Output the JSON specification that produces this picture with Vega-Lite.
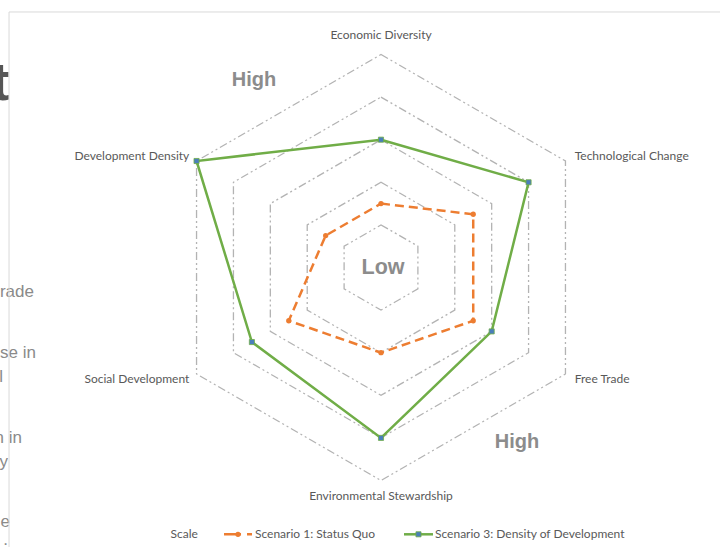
{
  "$schema": "https://vega.github.io/schema/vega-lite/v6.json",
  "autosize": {"type": "none"},
  "width": 720,
  "height": 547,
  "padding": 0,
  "background": "white",
  "config": {"view": {"stroke": null}, "axis": {"disable": true}},
  "datasets": {
    "axes": [
      {"axis": "Economic Diversity", "idx": 0},
      {"axis": "Technological Change", "idx": 1},
      {"axis": "Free Trade", "idx": 2},
      {"axis": "Environmental Stewardship", "idx": 3},
      {"axis": "Social Development", "idx": 4},
      {"axis": "Development Density", "idx": 5}
    ],
    "rings": [
      {"ring": 1, "k": [0, 1, 2, 3, 4, 5]},
      {"ring": 2, "k": [0, 1, 2, 3, 4, 5]},
      {"ring": 3, "k": [0, 1, 2, 3, 4, 5]},
      {"ring": 4, "k": [0, 1, 2, 3, 4, 5]},
      {"ring": 5, "k": [0, 1, 2, 3, 4, 5]}
    ],
    "scores": [
      {"series": "Scenario 1:  Status Quo", "axis": "Economic Diversity", "idx": 0, "value": 1.5},
      {"series": "Scenario 1:  Status Quo", "axis": "Technological Change", "idx": 1, "value": 2.5},
      {"series": "Scenario 1:  Status Quo", "axis": "Free Trade", "idx": 2, "value": 2.5},
      {"series": "Scenario 1:  Status Quo", "axis": "Environmental Stewardship", "idx": 3, "value": 2},
      {"series": "Scenario 1:  Status Quo", "axis": "Social Development", "idx": 4, "value": 2.5},
      {"series": "Scenario 1:  Status Quo", "axis": "Development Density", "idx": 5, "value": 1.5},
      {"series": "Scenario 3:  Density of Development", "axis": "Economic Diversity", "idx": 0, "value": 3},
      {"series": "Scenario 3:  Density of Development", "axis": "Technological Change", "idx": 1, "value": 4},
      {"series": "Scenario 3:  Density of Development", "axis": "Free Trade", "idx": 2, "value": 3},
      {"series": "Scenario 3:  Density of Development", "axis": "Environmental Stewardship", "idx": 3, "value": 4},
      {"series": "Scenario 3:  Density of Development", "axis": "Social Development", "idx": 4, "value": 3.5},
      {"series": "Scenario 3:  Density of Development", "axis": "Development Density", "idx": 5, "value": 5}
    ],
    "one": [{}]
  },
  "layer": [
    {
      "data": {"name": "one"},
      "mark": {"type": "text", "align": "right", "baseline": "alphabetic", "font": "Liberation Sans", "fontSize": 54, "fontWeight": "bold", "color": "#555555"},
      "encoding": {
        "x": {"datum": -8.72, "type": "quantitative", "scale": {"domain": [-8.944, 7.958], "nice": false, "zero": false}},
        "y": {"datum": 3.932, "type": "quantitative", "scale": {"domain": [-6.561, 6.279], "nice": false, "zero": false}},
        "text": {"value": "t"}
      }
    },
    {
      "data": {"values": [
        {"t": "rade", "px": -8.146, "py": -0.692},
        {"t": "se in", "px": -8.099, "py": -2.124},
        {"t": "l", "px": -8.873, "py": -2.688},
        {"t": "n in", "px": -8.427, "py": -4.12},
        {"t": "y", "px": -8.756, "py": -4.683},
        {"t": "e", "px": -8.709, "py": -6.092},
        {"t": ".", "px": -8.756, "py": -6.514}
      ]},
      "mark": {"type": "text", "align": "right", "baseline": "alphabetic", "font": "Liberation Sans", "fontSize": 17, "color": "#8a8a8a"},
      "encoding": {
        "x": {"field": "px", "type": "quantitative", "scale": {"domain": [-8.944, 7.958], "nice": false, "zero": false}},
        "y": {"field": "py", "type": "quantitative", "scale": {"domain": [-6.561, 6.279], "nice": false, "zero": false}},
        "text": {"field": "t"}
      }
    },
    {
      "data": {"name": "one"},
      "mark": {"type": "rule", "color": "#d9d9d9", "strokeWidth": 1},
      "encoding": {
        "x": {"datum": -8.732, "type": "quantitative", "scale": {"domain": [-8.944, 7.958], "nice": false, "zero": false}},
        "x2": {"datum": 7.958},
        "y": {"datum": 5.998, "type": "quantitative", "scale": {"domain": [-6.561, 6.279], "nice": false, "zero": false}}
      }
    },
    {
      "data": {"name": "one"},
      "mark": {"type": "rule", "color": "#d9d9d9", "strokeWidth": 1},
      "encoding": {
        "x": {"datum": -8.732, "type": "quantitative", "scale": {"domain": [-8.944, 7.958], "nice": false, "zero": false}},
        "y": {"datum": 5.998, "type": "quantitative", "scale": {"domain": [-6.561, 6.279], "nice": false, "zero": false}},
        "y2": {"datum": -6.561}
      }
    },
    {
      "data": {"name": "rings"},
      "transform": [
        {"flatten": ["k"]},
        {"calculate": "datum.ring * sin(datum.k * PI / 3)", "as": "x"},
        {"calculate": "datum.ring * cos(datum.k * PI / 3)", "as": "y"}
      ],
      "mark": {"type": "line", "interpolate": "linear-closed", "color": "#b3b3b3", "strokeWidth": 1.3, "strokeDash": [8, 3, 2, 3, 2, 3]},
      "encoding": {
        "x": {"field": "x", "type": "quantitative", "scale": {"domain": [-8.944, 7.958], "nice": false, "zero": false}},
        "y": {"field": "y", "type": "quantitative", "scale": {"domain": [-6.561, 6.279], "nice": false, "zero": false}},
        "detail": {"field": "ring"},
        "order": {"field": "k", "type": "quantitative"}
      }
    },
    {
      "data": {"name": "scores"},
      "transform": [
        {"filter": "datum.series === 'Scenario 1:  Status Quo'"},
        {"calculate": "datum.value * sin(datum.idx * PI / 3)", "as": "x"},
        {"calculate": "datum.value * cos(datum.idx * PI / 3)", "as": "y"}
      ],
      "layer": [
        {
          "mark": {"type": "line", "interpolate": "linear-closed", "color": "#ed7d31", "strokeWidth": 2.5, "strokeDash": [9, 5]},
          "encoding": {
            "x": {"field": "x", "type": "quantitative", "scale": {"domain": [-8.944, 7.958], "nice": false, "zero": false}},
            "y": {"field": "y", "type": "quantitative", "scale": {"domain": [-6.561, 6.279], "nice": false, "zero": false}},
            "order": {"field": "idx", "type": "quantitative"}
          }
        },
        {
          "mark": {"type": "point", "shape": "circle", "filled": true, "color": "#ed7d31", "size": 28, "opacity": 1},
          "encoding": {
            "x": {"field": "x", "type": "quantitative", "scale": {"domain": [-8.944, 7.958], "nice": false, "zero": false}},
            "y": {"field": "y", "type": "quantitative", "scale": {"domain": [-6.561, 6.279], "nice": false, "zero": false}}
          }
        }
      ]
    },
    {
      "data": {"name": "scores"},
      "transform": [
        {"filter": "datum.series === 'Scenario 3:  Density of Development'"},
        {"calculate": "datum.value * sin(datum.idx * PI / 3)", "as": "x"},
        {"calculate": "datum.value * cos(datum.idx * PI / 3)", "as": "y"}
      ],
      "layer": [
        {
          "mark": {"type": "line", "interpolate": "linear-closed", "color": "#70ad47", "strokeWidth": 2.5},
          "encoding": {
            "x": {"field": "x", "type": "quantitative", "scale": {"domain": [-8.944, 7.958], "nice": false, "zero": false}},
            "y": {"field": "y", "type": "quantitative", "scale": {"domain": [-6.561, 6.279], "nice": false, "zero": false}},
            "order": {"field": "idx", "type": "quantitative"}
          }
        },
        {
          "mark": {"type": "point", "shape": "square", "filled": true, "fill": "#4a7ebb", "stroke": "#70ad47", "strokeWidth": 0.8, "size": 26, "opacity": 1},
          "encoding": {
            "x": {"field": "x", "type": "quantitative", "scale": {"domain": [-8.944, 7.958], "nice": false, "zero": false}},
            "y": {"field": "y", "type": "quantitative", "scale": {"domain": [-6.561, 6.279], "nice": false, "zero": false}}
          }
        }
      ]
    },
    {
      "data": {"name": "axes"},
      "transform": [
        {"calculate": "5.25 * sin(datum.idx * PI / 3)", "as": "x"},
        {"calculate": "5.25 * cos(datum.idx * PI / 3)", "as": "y"}
      ],
      "layer": [
        {
          "transform": [{"filter": "datum.idx === 0"}],
          "mark": {"type": "text", "align": "center", "baseline": "middle", "dy": -9, "font": "Lato", "fontSize": 12, "color": "#595959"},
          "encoding": {
            "x": {"field": "x", "type": "quantitative", "scale": {"domain": [-8.944, 7.958], "nice": false, "zero": false}},
            "y": {"field": "y", "type": "quantitative", "scale": {"domain": [-6.561, 6.279], "nice": false, "zero": false}},
            "text": {"field": "axis"}
          }
        },
        {
          "transform": [{"filter": "datum.idx === 3"}],
          "mark": {"type": "text", "align": "center", "baseline": "middle", "dy": 5, "font": "Lato", "fontSize": 12, "color": "#595959"},
          "encoding": {
            "x": {"field": "x", "type": "quantitative", "scale": {"domain": [-8.944, 7.958], "nice": false, "zero": false}},
            "y": {"field": "y", "type": "quantitative", "scale": {"domain": [-6.561, 6.279], "nice": false, "zero": false}},
            "text": {"field": "axis"}
          }
        },
        {
          "transform": [{"filter": "datum.idx === 1 || datum.idx === 2"}],
          "mark": {"type": "text", "align": "left", "baseline": "middle", "font": "Lato", "fontSize": 12, "color": "#595959"},
          "encoding": {
            "x": {"field": "x", "type": "quantitative", "scale": {"domain": [-8.944, 7.958], "nice": false, "zero": false}},
            "y": {"field": "y", "type": "quantitative", "scale": {"domain": [-6.561, 6.279], "nice": false, "zero": false}},
            "text": {"field": "axis"}
          }
        },
        {
          "transform": [{"filter": "datum.idx === 4 || datum.idx === 5"}],
          "mark": {"type": "text", "align": "right", "baseline": "middle", "dx": 2, "font": "Lato", "fontSize": 12, "color": "#595959"},
          "encoding": {
            "x": {"field": "x", "type": "quantitative", "scale": {"domain": [-8.944, 7.958], "nice": false, "zero": false}},
            "y": {"field": "y", "type": "quantitative", "scale": {"domain": [-6.561, 6.279], "nice": false, "zero": false}},
            "text": {"field": "axis"}
          }
        }
      ]
    },
    {
      "data": {"values": [
        {"t": "High", "px": -2.981, "py": 4.401},
        {"t": "High", "px": 3.192, "py": -4.096}
      ]},
      "mark": {"type": "text", "align": "center", "baseline": "middle", "font": "Liberation Sans", "fontWeight": "bold", "fontSize": 20, "color": "#8c8c8c"},
      "encoding": {
        "x": {"field": "px", "type": "quantitative", "scale": {"domain": [-8.944, 7.958], "nice": false, "zero": false}},
        "y": {"field": "py", "type": "quantitative", "scale": {"domain": [-6.561, 6.279], "nice": false, "zero": false}},
        "text": {"field": "t"}
      }
    },
    {
      "data": {"values": [
        {"t": "Low", "px": 0.047, "py": -0.012}
      ]},
      "mark": {"type": "text", "align": "center", "baseline": "middle", "font": "Liberation Sans", "fontWeight": "bold", "fontSize": 21.5, "color": "#8c8c8c"},
      "encoding": {
        "x": {"field": "px", "type": "quantitative", "scale": {"domain": [-8.944, 7.958], "nice": false, "zero": false}},
        "y": {"field": "py", "type": "quantitative", "scale": {"domain": [-6.561, 6.279], "nice": false, "zero": false}},
        "text": {"field": "t"}
      }
    },
    {
      "data": {"name": "one"},
      "mark": {"type": "rule", "color": "#ed7d31", "strokeWidth": 2.5, "strokeDash": [17, 6]},
      "encoding": {
        "x": {"datum": -3.685, "type": "quantitative", "scale": {"domain": [-8.944, 7.958], "nice": false, "zero": false}},
        "x2": {"datum": -3.028},
        "y": {"datum": -6.263, "type": "quantitative", "scale": {"domain": [-6.561, 6.279], "nice": false, "zero": false}}
      }
    },
    {
      "data": {"name": "one"},
      "mark": {"type": "point", "shape": "circle", "filled": true, "color": "#ed7d31", "size": 28, "opacity": 1},
      "encoding": {
        "x": {"datum": -3.357, "type": "quantitative", "scale": {"domain": [-8.944, 7.958], "nice": false, "zero": false}},
        "y": {"datum": -6.263, "type": "quantitative", "scale": {"domain": [-6.561, 6.279], "nice": false, "zero": false}}
      }
    },
    {
      "data": {"name": "one"},
      "mark": {"type": "rule", "color": "#70ad47", "strokeWidth": 2.5},
      "encoding": {
        "x": {"datum": 0.54, "type": "quantitative", "scale": {"domain": [-8.944, 7.958], "nice": false, "zero": false}},
        "x2": {"datum": 1.221},
        "y": {"datum": -6.263, "type": "quantitative", "scale": {"domain": [-6.561, 6.279], "nice": false, "zero": false}}
      }
    },
    {
      "data": {"name": "one"},
      "mark": {"type": "point", "shape": "square", "filled": true, "fill": "#4a7ebb", "stroke": "#70ad47", "strokeWidth": 0.8, "size": 26, "opacity": 1},
      "encoding": {
        "x": {"datum": 0.88, "type": "quantitative", "scale": {"domain": [-8.944, 7.958], "nice": false, "zero": false}},
        "y": {"datum": -6.263, "type": "quantitative", "scale": {"domain": [-6.561, 6.279], "nice": false, "zero": false}}
      }
    },
    {
      "data": {"values": [
        {"t": "Scale", "px": -4.94},
        {"t": "Scenario 1:  Status Quo", "px": -2.958},
        {"t": "Scenario 3:  Density of Development", "px": 1.268}
      ]},
      "mark": {"type": "text", "align": "left", "baseline": "middle", "font": "Lato", "fontSize": 12, "color": "#595959"},
      "encoding": {
        "x": {"field": "px", "type": "quantitative", "scale": {"domain": [-8.944, 7.958], "nice": false, "zero": false}},
        "y": {"datum": -6.263, "type": "quantitative", "scale": {"domain": [-6.561, 6.279], "nice": false, "zero": false}},
        "text": {"field": "t"}
      }
    }
  ]
}
